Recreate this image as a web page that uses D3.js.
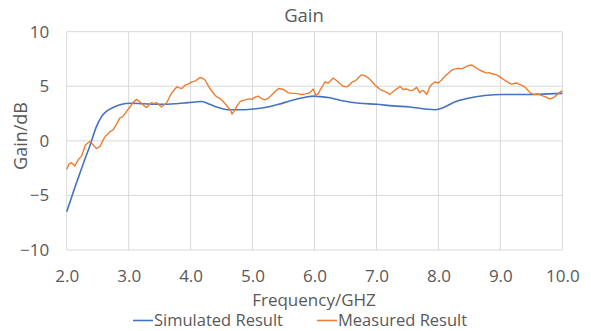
<!DOCTYPE html>
<html>
<head>
<meta charset="utf-8">
<script src="https://cdn.jsdelivr.net/npm/d3@7/dist/d3.min.js"></script>
<style>
  html, body { margin: 0; padding: 0; background: #fff; }
  svg { display: block; font-family: "Open Sans", Lato, sans-serif; }
</style>
</head>
<body>
<svg id="chart" width="591" height="331"></svg>
<script>
// Simulated gain (smooth curve)
const simFreq = [2.00, 2.13, 2.27, 2.38, 2.48, 2.56, 2.64, 2.75, 2.89, 3.02, 3.24, 3.51, 3.75, 3.96,
  4.18, 4.31, 4.45, 4.61, 4.77, 4.98, 5.20, 5.42, 5.63, 5.85, 6.00, 6.09, 6.25, 6.47, 6.73, 7.00,
  7.27, 7.54, 7.81, 7.95, 8.10, 8.26, 8.48, 8.75, 9.02, 9.29, 9.56, 9.77, 10.00];
const simGain = [-6.5, -4.3, -2.05, -0.35, 1.3, 2.2, 2.7, 3.05, 3.35, 3.45, 3.4, 3.35, 3.4, 3.5,
  3.6, 3.35, 3.05, 2.85, 2.85, 2.9, 3.05, 3.35, 3.7, 4.0, 4.1, 4.05, 3.95, 3.65, 3.45, 3.35,
  3.2, 3.1, 2.9, 2.85, 3.1, 3.55, 3.9, 4.15, 4.25, 4.25, 4.25, 4.3, 4.35];

// Measured gain
const measFreq = [2.00, 2.04, 2.08, 2.13, 2.19, 2.24, 2.27, 2.30, 2.34, 2.38, 2.43, 2.48, 2.54, 2.58,
  2.62, 2.66, 2.70, 2.75, 2.81, 2.86, 2.90, 2.94, 2.98, 3.02, 3.07, 3.13, 3.17, 3.21, 3.25, 3.29,
  3.33, 3.37, 3.41, 3.45, 3.49, 3.53, 3.57, 3.61, 3.65, 3.69, 3.74, 3.78, 3.82, 3.86, 3.91, 3.96,
  4.02, 4.08, 4.15, 4.19, 4.23, 4.27, 4.31, 4.35, 4.39, 4.43, 4.47, 4.51, 4.55, 4.60, 4.64, 4.67,
  4.70, 4.72, 4.76, 4.80, 4.84, 4.88, 4.94, 4.99, 5.04, 5.09, 5.14, 5.20, 5.25, 5.31, 5.36, 5.42,
  5.46, 5.50, 5.54, 5.58, 5.64, 5.69, 5.74, 5.79, 5.85, 5.90, 5.94, 5.98, 6.02, 6.06, 6.09, 6.13,
  6.17, 6.22, 6.26, 6.30, 6.34, 6.38, 6.42, 6.46, 6.52, 6.56, 6.60, 6.64, 6.68, 6.72, 6.76, 6.82,
  6.86, 6.90, 6.94, 6.98, 7.02, 7.06, 7.10, 7.14, 7.18, 7.21, 7.26, 7.30, 7.34, 7.38, 7.43, 7.47,
  7.51, 7.55, 7.59, 7.65, 7.70, 7.73, 7.76, 7.81, 7.84, 7.86, 7.90, 7.94, 8.00, 8.04, 8.08, 8.12,
  8.16, 8.20, 8.24, 8.28, 8.32, 8.36, 8.40, 8.46, 8.50, 8.54, 8.58, 8.62, 8.66, 8.70, 8.74, 8.78,
  8.82, 8.86, 8.90, 8.94, 8.98, 9.02, 9.06, 9.10, 9.14, 9.18, 9.22, 9.26, 9.30, 9.34, 9.38, 9.42,
  9.45, 9.48, 9.52, 9.55, 9.59, 9.63, 9.67, 9.72, 9.76, 9.80, 9.85, 9.88, 9.91, 9.95, 10.00];
const measGain = [-2.6, -2.1, -2.0, -2.3, -1.7, -1.4, -0.9, -0.4, -0.2, -0.05, -0.4, -0.7, -0.5, 0.0,
  0.4, 0.6, 0.85, 1.0, 1.6, 2.1, 2.2, 2.5, 2.8, 3.1, 3.5, 3.8, 3.6, 3.45, 3.2, 3.05,
  3.3, 3.5, 3.4, 3.5, 3.3, 3.1, 3.3, 3.45, 3.9, 4.35, 4.7, 4.95, 4.85, 4.8, 5.1, 5.2,
  5.4, 5.5, 5.8, 5.75, 5.6, 5.2, 4.8, 4.5, 4.2, 4.0, 3.9, 3.7, 3.45, 3.1, 2.85, 2.45,
  2.7, 2.9, 3.3, 3.6, 3.7, 3.75, 3.85, 3.8, 4.0, 4.1, 3.9, 3.75, 3.9, 4.2, 4.5, 4.8,
  4.75, 4.7, 4.55, 4.4, 4.35, 4.35, 4.3, 4.25, 4.3, 4.35, 4.5, 4.75, 4.2, 4.3, 4.65, 5.0,
  5.4, 5.3, 5.5, 5.75, 5.6, 5.4, 5.2, 5.0, 4.95, 5.1, 5.35, 5.45, 5.6, 5.85, 6.05, 5.95,
  5.8, 5.6, 5.35, 5.1, 4.9, 4.7, 4.6, 4.5, 4.4, 4.25, 4.45, 4.65, 4.8, 5.0, 4.7, 4.75,
  4.7, 4.6, 4.65, 4.9, 4.4, 4.6, 4.6, 4.25, 4.6, 4.95, 5.2, 5.4, 5.3, 5.5, 5.75, 6.0,
  6.2, 6.4, 6.55, 6.6, 6.65, 6.6, 6.65, 6.85, 6.9, 6.95, 6.8, 6.65, 6.5, 6.4, 6.3, 6.2,
  6.25, 6.15, 6.1, 6.05, 5.9, 5.75, 5.6, 5.45, 5.3, 5.2, 5.25, 5.3, 5.2, 5.1, 5.0, 4.8,
  4.6, 4.4, 4.3, 4.25, 4.3, 4.25, 4.15, 4.05, 3.95, 3.85, 3.95, 4.05, 4.2, 4.4, 4.6];

const xTicks = [2, 3, 4, 5, 6, 7, 8, 9, 10];
const yTicks = [-10, -5, 0, 5, 10];
const seriesNames = ["Simulated Result", "Measured Result"];
const seriesColors = ["#4472C4", "#ED7D31"];

const svg = d3.select("#chart");
const textColor = "#595959";
const fontStack = "'Open Sans', Lato, sans-serif";
const margin = { left: 66.7, right: 591 - 562.3, top: 31.7, bottom: 331 - 250 };

const x = d3.scaleLinear().domain([2, 10]).range([margin.left, 591 - margin.right]);
const y = d3.scaleLinear().domain([-10, 10]).range([331 - margin.bottom, margin.top]);

// Gridlines
const grid = svg.append("g");
grid.selectAll("line.h").data(yTicks).join("line")
  .attr("x1", x(2)).attr("x2", x(10))
  .attr("y1", d => y(d)).attr("y2", d => y(d))
  .attr("stroke", "#d9d9d9").attr("stroke-width", 1);
grid.selectAll("line.v").data(xTicks).join("line")
  .attr("x1", d => x(d)).attr("x2", d => x(d))
  .attr("y1", y(-10)).attr("y2", y(10))
  .attr("stroke", "#d9d9d9").attr("stroke-width", 1);

// Axes (labels only)
const yAxis = d3.axisLeft(y).tickValues(yTicks).tickSize(0).tickPadding(17.5).tickFormat(d3.format("d"));
const gy = svg.append("g").attr("transform", `translate(${x(2)},0)`).call(yAxis);
const xAxis = d3.axisBottom(x).tickValues(xTicks).tickSize(0).tickPadding(19.5).tickFormat(d3.format(".1f"));
const gx = svg.append("g").attr("transform", `translate(0,${y(-10)})`).call(xAxis);
[gx, gy].forEach(g => {
  g.select(".domain").remove();
  g.selectAll("text").attr("fill", textColor).style("font-size", "17px")
    .style("font-family", fontStack);
});

// Series lines
const simData = simFreq.map((f, i) => [f, simGain[i]]);
const measData = measFreq.map((f, i) => [f, measGain[i]]);

svg.append("path").datum(simData)
  .attr("fill", "none").attr("stroke", seriesColors[0]).attr("stroke-width", 1.6)
  .attr("d", d3.line().x(d => x(d[0])).y(d => y(d[1])).curve(d3.curveMonotoneX));
svg.append("path").datum(measData)
  .attr("fill", "none").attr("stroke", seriesColors[1]).attr("stroke-width", 1.4)
  .attr("stroke-linejoin", "round")
  .attr("d", d3.line().x(d => x(d[0])).y(d => y(d[1])));

// Title and axis titles
svg.append("text").attr("x", 304).attr("y", 21.5).attr("text-anchor", "middle")
  .attr("fill", textColor).style("font-size", "18.5px").text("Gain");
svg.append("text").attr("x", 314).attr("y", 306).attr("text-anchor", "middle")
  .attr("fill", textColor).style("font-size", "17px").text("Frequency/GHZ");
svg.append("text").attr("transform", "translate(26.5,136) rotate(-90)").attr("text-anchor", "middle")
  .attr("fill", textColor).style("font-size", "18px").text("Gain/dB");

// Legend
const legendX = [133, 317];
const legend = svg.append("g");
seriesNames.forEach((name, i) => {
  legend.append("line").attr("x1", legendX[i]).attr("x2", legendX[i] + 20)
    .attr("y1", 320.5).attr("y2", 320.5)
    .attr("stroke", seriesColors[i]).attr("stroke-width", 1.6);
  legend.append("text").attr("x", legendX[i] + 21).attr("y", 326)
    .attr("fill", textColor).style("font-size", "16.5px").text(name);
});
</script>
</body>
</html>
